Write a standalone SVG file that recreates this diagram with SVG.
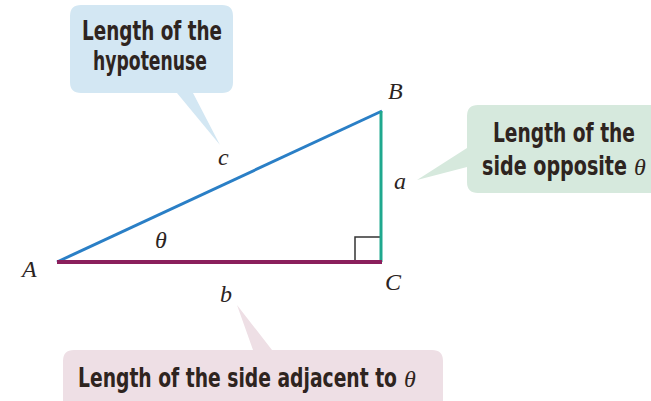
<svg xmlns="http://www.w3.org/2000/svg" width="651" height="401" viewBox="0 0 651 401">
<style>
.lbl{font-family:"DejaVu Sans Condensed","DejaVu Sans",sans-serif;font-weight:bold;font-stretch:condensed;font-size:21px;fill:#2e2420}
.th{font-family:"Liberation Serif",serif;font-style:italic;font-size:24px;fill:#2e2420}
.math{font-family:"Liberation Serif",serif;font-style:italic;font-size:24px;fill:#2b2422}
</style>
<rect width="651" height="401" fill="#ffffff"/>
<g id="hyp-callout">
<path d="M80,5 H222 Q233,5 233,16 V82 Q233,93 222,93 H193 L220,145 L177,93 H81 Q70,93 70,82 V16 Q70,5 81,5 Z" fill="#d3e7f3"/>
<text class="lbl" transform="translate(82,40) scale(1,1.3)" textLength="140" lengthAdjust="spacingAndGlyphs">Length of the</text>
<text class="lbl" transform="translate(93,70) scale(1,1.3)" textLength="114" lengthAdjust="spacingAndGlyphs">hypotenuse</text>
</g>
<g id="opp-callout">
<path d="M478,105 H651 V193 H478 Q467,193 467,182 V167 L417,180 L467,148 V116 Q467,105 478,105 Z" fill="#d6e9dd"/>
<text class="lbl" transform="translate(493,142) scale(1,1.3)" textLength="142" lengthAdjust="spacingAndGlyphs">Length of the</text>
<text class="lbl" transform="translate(482,175) scale(1,1.3)" textLength="145" lengthAdjust="spacingAndGlyphs">side opposite</text>
<text class="th" x="634" y="175">θ</text>
</g>
<g id="adj-callout">
<path d="M74,350 H253 L237,305 L272,350 H432 Q443,350 443,361 V401 H63 V361 Q63,350 74,350 Z" fill="#eedfe5"/>
<text class="lbl" transform="translate(78,387) scale(1,1.3)" textLength="319" lengthAdjust="spacingAndGlyphs">Length of the side adjacent to</text>
<text class="th" x="404" y="387">θ</text>
</g>
<g id="triangle">
<polyline points="355,262 355,237 381,237" fill="none" stroke="#333" stroke-width="1.5"/>
<line id="side-c" x1="57" y1="262" x2="382" y2="111" stroke="#2a7fc6" stroke-width="3"/>
<line id="side-a" x1="381" y1="111" x2="381" y2="262" stroke="#1fa88e" stroke-width="3"/>
<line id="side-b" x1="57" y1="262" x2="382" y2="262" stroke="#8a1f5c" stroke-width="4"/>
</g>
<g id="labels">
<text class="math" x="22" y="277">A</text>
<text class="math" x="388" y="99">B</text>
<text class="math" x="385" y="290">C</text>
<text class="math" x="218" y="165">c</text>
<text class="math" x="394" y="189">a</text>
<text class="math" x="220" y="302">b</text>
<text class="math" x="155" y="248" font-size="22">θ</text>
</g>
</svg>
